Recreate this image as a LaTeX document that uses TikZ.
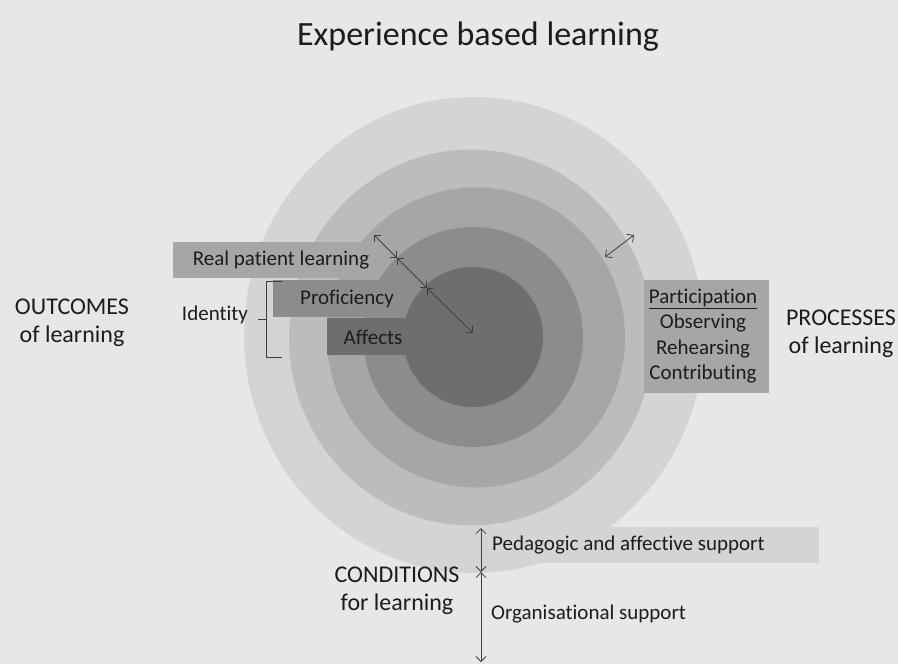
\documentclass[tikz,border=0pt]{standalone}
\usepackage{fontspec}
\setmainfont{Carlito}[Ligatures=NoCommon]
\usetikzlibrary{arrows.meta}
\definecolor{bggray}{HTML}{E7E7E7}
\definecolor{ringA}{HTML}{D4D4D4}
\definecolor{ringB}{HTML}{BCBCBC}
\definecolor{ringC}{HTML}{A6A6A6}
\definecolor{ringD}{HTML}{8C8C8C}
\definecolor{ringE}{HTML}{6E6E6E}
\definecolor{ink}{HTML}{1C1C1C}
\begin{document}
\begin{tikzpicture}[x=1pt, y=-1pt,
	small/.style={text=ink, inner sep=0pt, font=\fontsize{21}{25.5}\selectfont, align=center},
	large/.style={text=ink, inner sep=0pt, font=\fontsize{24}{28}\selectfont, align=center},
	link/.style={draw=ink!85, line width=0.8pt, {Straight Barb[length=5pt,width=10pt]}-{Straight Barb[length=5pt,width=10pt]}}]
		\useasboundingbox (0,0) rectangle (898,664);
		\fill[bggray] (0,0) rectangle (898,664);
		% rings, outside in, with the bars that sit between them
		\fill[ringA] (474,335) ellipse [x radius=230pt, y radius=238pt];
		\fill[ringA] (482,527) rectangle (819,563);
		\fill[ringB] (471,337.5) ellipse [x radius=182pt, y radius=188pt];
		\fill[ringC] (173,242) rectangle (400,278);
		\fill[ringC] (644,280) rectangle (769,393);
		\fill[ringC] (476,337.5) ellipse [x radius=149pt, y radius=150pt];
		\fill[ringD] (273,280) rectangle (410,317);
		\fill[ringD] (473,337) circle [radius=110pt];
		\fill[ringE] (327,318) rectangle (430,355);
		\fill[ringE] (473,337) circle [radius=70pt];
		% arrows
		\coordinate (r1) at (374,235);
		\coordinate (r2) at (397,258);
		\coordinate (r3) at (427,288);
		\coordinate (r4) at (473,333);
		\coordinate (q1) at (605,257);
		\coordinate (q2) at (634,235);
		\coordinate (s1) at (481,528);
		\coordinate (s2) at (481,572);
		\coordinate (s3) at (481,662);
		\draw[link] (r1) -- (r2);
		\draw[link] (r2) -- (r3);
		\draw[link] (r3) -- (r4);
		\draw[link] (q1) -- (q2);
		\draw[link] (s1) -- (s2);
		\draw[link] (s2) -- (s3);
		% bracket
		\draw[ink!85, line width=0.8pt] (282,281) -- (266,281) -- (266,357) -- (282,357);
		\draw[ink!85, line width=0.8pt] (258,319) -- (266,319);
		% texts
		\node[text=ink, inner sep=0pt, font=\fontsize{34}{40}\selectfont] (title) at (478,37) {Experience based learning};
		\node[large] (outcomes) at (72,323) {OUTCOMES\\of learning};
		\node[large] (processes) at (841,334) {PROCESSES\\of learning};
		\node[large] (conditions) at (397,591) {CONDITIONS\\for learning};
		\node[small] (identity) at (215,315) {Identity};
		\node[small] (real) at (281,260) {Real patient learning};
		\node[small] (proficiency) at (347,299) {Proficiency};
		\node[small] (affects) at (373,337) {Affects};
		\node[small] (participation) at (703,336) {\underline{Participation}\\Observing\\Rehearsing\\Contributing};
		\node[small, anchor=west] (pedagogic) at (492,545) {Pedagogic and affective support};
		\node[small, anchor=west] (organisational) at (491,614) {Organisational support};
	\end{tikzpicture}
\end{document}
